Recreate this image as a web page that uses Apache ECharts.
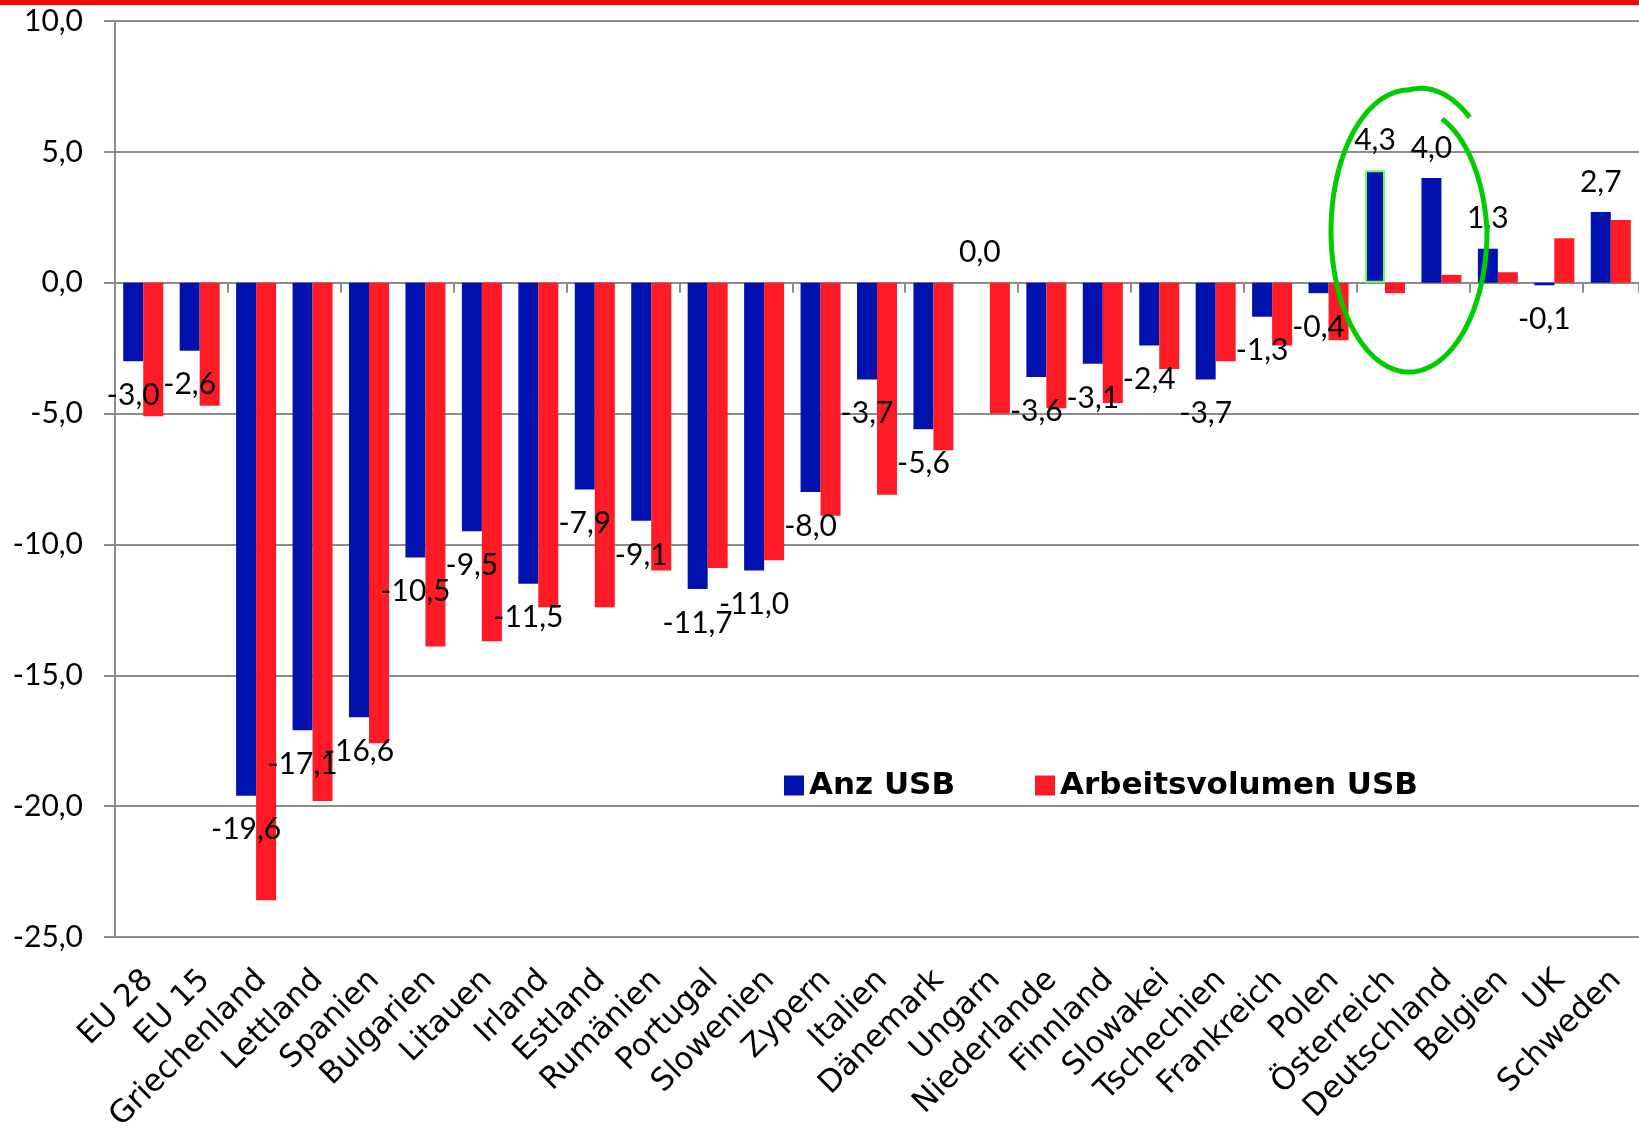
<!DOCTYPE html>
<html>
<head>
<meta charset="utf-8">
<script src="https://cdn.jsdelivr.net/npm/echarts@6/dist/echarts.min.js"></script>
<style>
html, body { margin: 0; padding: 0; background: #fff; }
#chart { width: 1639px; height: 1136px; }
</style>
</head>
<body>
<div id="chart"></div>
<script>
const categories = ['EU 28', 'EU 15', 'Griechenland', 'Lettland', 'Spanien', 'Bulgarien', 'Litauen', 'Irland', 'Estland', 'Rumänien', 'Portugal', 'Slowenien', 'Zypern', 'Italien', 'Dänemark', 'Ungarn', 'Niederlande', 'Finnland', 'Slowakei', 'Tschechien', 'Frankreich', 'Polen', 'Österreich', 'Deutschland', 'Belgien', 'UK', 'Schweden'];
const anzUSB = [-3.0, -2.6, -19.6, -17.1, -16.6, -10.5, -9.5, -11.5, -7.9, -9.1, -11.7, -11.0, -8.0, -3.7, -5.6, 0.0, -3.6, -3.1, -2.4, -3.7, -1.3, -0.4, 4.3, 4.0, 1.3, -0.1, 2.7];
const arbeitsvolumenUSB = [-5.1, -4.7, -23.6, -19.8, -17.6, -13.9, -13.7, -12.4, -12.4, -11.0, -10.9, -10.6, -8.9, -8.1, -6.4, -5.0, -4.8, -4.6, -3.3, -3.0, -2.4, -2.2, -0.4, 0.3, 0.4, 1.7, 2.4];
const yTicks = { min: -25, max: 10, interval: 5 };

const fmt = v => v.toFixed(1).replace('.', ',');
const grey = '#8c8c8c';

let myChart = echarts.init(document.getElementById('chart'));

// Beschriftung nur für Anz USB, unter bzw. über dem Balken
const blueData = anzUSB.map((v, i) => {
    let item = {
        value: v,
        label: { position: v < 0 ? 'bottom' : 'top', distance: v < 0 ? 19 : 15 }
    };
    if (categories[i] === 'Österreich') {
        item.itemStyle = { borderColor: '#66ff55', borderWidth: 2 };
    }
    return item;
});

// grüner Handkreis um Österreich/Deutschland (offenes Ende oben rechts)
const ring = [];
const a0 = -62, a1 = 314;
for (let a = a0; a <= a1; a += 2) {
    let r = 1;
    if (a < 0) r = 0.9 + 0.1 * (a - a0) / (0 - a0);
    if (a > 270) r = 1 + 0.12 * (a - 270) / (a1 - 270);
    let t = a * Math.PI / 180;
    ring.push([1409 + 78 * r * Math.cos(t), 231 + 141 * r * Math.sin(t)]);
}

myChart.setOption({
    animation: false,
    backgroundColor: '#fff',
    grid: { left: 115, top: 21, width: 1530, height: 916 },
    legend: {
        left: 779,
        top: 765,
        itemWidth: 20,
        itemHeight: 20,
        itemGap: 80,
        icon: 'rect',
        textStyle: { fontFamily: 'DejaVu Sans', fontWeight: 'bold', fontSize: 31, color: '#000' },
        data: ['Anz USB', 'Arbeitsvolumen USB']
    },
    xAxis: [
        {
            type: 'category',
            data: categories,
            position: 'bottom',
            axisLine: { show: false, onZero: false },
            axisTick: { show: false },
            axisLabel: {
                interval: 0,
                rotate: 45,
                margin: 44,
                padding: [0, -8, 0, 0],
                fontFamily: 'DejaVu Sans',
                fontSize: 31,
                color: '#000'
            }
        },
        {
            type: 'category',
            data: categories,
            position: 'bottom',
            axisLine: { show: true, onZero: true, lineStyle: { color: grey, width: 2 } },
            axisTick: { show: true, length: 10, lineStyle: { color: grey, width: 2 } },
            axisLabel: { show: false }
        }
    ],
    yAxis: {
        type: 'value',
        min: yTicks.min,
        max: yTicks.max,
        interval: yTicks.interval,
        axisLine: { show: true, lineStyle: { color: grey, width: 2 } },
        axisTick: { show: true, length: 11, lineStyle: { color: grey, width: 2 } },
        splitLine: { lineStyle: { color: grey, width: 2 } },
        axisLabel: {
            margin: 32,
            fontFamily: 'Lato',
            fontSize: 30,
            color: '#000',
            formatter: fmt
        }
    },
    series: [
        {
            name: 'Anz USB',
            type: 'bar',
            barWidth: 20,
            barGap: '0%',
            itemStyle: { color: '#0212ae' },
            label: {
                show: true,
                fontFamily: 'Lato',
                fontSize: 30,
                lineHeight: 30,
                color: '#000',
                formatter: p => fmt(p.value)
            },
            data: blueData
        },
        {
            name: 'Arbeitsvolumen USB',
            type: 'bar',
            barWidth: 20,
            barGap: '0%',
            itemStyle: { color: '#ff1b26' },
            data: arbeitsvolumenUSB
        }
    ],
    graphic: [
        {
            type: 'rect',
            left: 0,
            top: 0,
            shape: { width: 1639, height: 5 },
            style: { fill: '#ff0000' }
        },
        {
            type: 'polyline',
            shape: { points: ring },
            style: { fill: null, stroke: '#00cc00', lineWidth: 5 },
            z: 100
        }
    ]
});

window.addEventListener('resize', function () {
    myChart.resize();
});
</script>
</body>
</html>
